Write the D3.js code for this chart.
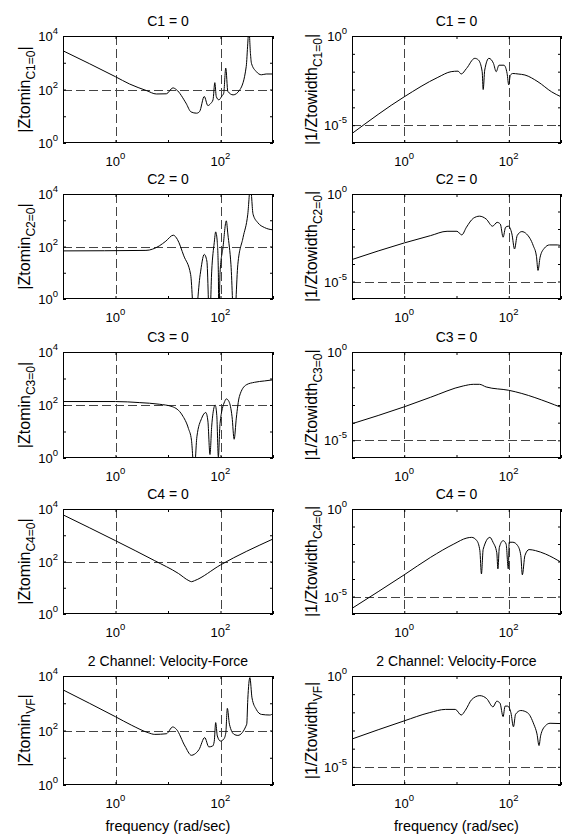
<!DOCTYPE html>
<html>
<head>
<meta charset="utf-8">
<script src="https://cdn.jsdelivr.net/npm/d3@7"></script>
<style>
  body { margin: 0; background: #fff; }
  text { font-family: "Liberation Sans", Arial, sans-serif; fill: #000; }
</style>
</head>
<body>
<svg id="fig" width="568" height="836"></svg>
<script>
// frequency (rad/sec) and magnitude pairs
const zC1Freq = [0.1, 1, 1.86, 3.9, 6, 9.3, 12.4, 14.5, 22, 27.5, 35, 40, 49, 57.5, 65, 72, 78, 83, 93, 107, 115, 126, 138, 174, 234, 309, 331, 347, 372, 389, 479, 603, 741, 1000];
const zC1Mag = [2800, 300, 160, 91, 68, 69, 115, 98, 31, 14.5, 13, 15, 55, 25, 30, 41, 180, 55, 41, 58, 72, 630, 85, 63, 98, 720, 5400, 20000, 2200, 950, 470, 355, 380, 380];

const zC2Freq = [0.1, 3.8, 6.8, 9.1, 12.6, 15.1, 20, 27, 32, 41, 49, 55, 62, 68, 76, 81, 87, 91, 93, 98, 112, 129, 138, 158, 182, 214, 269, 331, 372, 417, 513, 692, 1000];
const zC2Mag = [68, 71, 105, 160, 270, 186, 44, 8.5, 0.1, 8.5, 50, 28, 0.1, 11.5, 140, 360, 140, 10, 0.1, 10, 100, 950, 300, 21, 0.1, 21, 220, 1700, 20000, 1700, 810, 525, 430];

const zC3Freq = [0.1, 1, 2.9, 6.8, 12, 18.6, 24.5, 28, 31.6, 35.5, 43.6, 52.5, 57.5, 63, 68, 76, 79, 85, 91, 98, 120, 129, 145, 166, 182, 200, 229, 309, 447, 692, 1000];
const zC3Mag = [135, 135, 123, 107, 87, 42, 13, 4.7, 0.3, 6.3, 31, 52, 25, 1.35, 16, 87, 100, 40, 1.1, 20, 135, 170, 135, 36, 5.1, 32, 210, 575, 720, 810, 890];

const zC4Freq = [0.1, 1, 5.6, 15.8, 25, 28, 32, 100, 1000];
const zC4Mag = [6000, 620, 107, 35, 18.6, 17, 18.6, 74, 720];

const zVFFreq = [0.1, 1, 2.04, 4.2, 5.6, 9.3, 12.3, 14.5, 21, 28, 32, 39, 50, 60, 71, 76, 81, 87, 100, 115, 126, 135, 148, 182, 214, 316, 331, 363, 398, 479, 603, 871, 1000];
const zVFMag = [3100, 320, 155, 83, 72, 76, 135, 110, 27, 12.3, 13.5, 20, 55, 25, 27, 40, 195, 63, 41, 48, 80, 650, 170, 72, 66, 170, 1380, 8700, 1580, 600, 390, 370, 420];

const wC1Freq = [0.1, 1, 4.4, 7.9, 10.7, 12.3, 15.5, 22.4, 26.3, 31, 32.4, 34.7, 41.7, 51, 57.5, 65, 81, 93, 100, 107, 120, 151, 204, 363, 661, 1000];
const wC1Mag = [3.4e-6, 3.9e-4, 4.8e-3, 1.0e-2, 1.07e-2, 7.4e-3, 1.5e-2, 5.6e-2, 4.5e-2, 1.0e-2, 1.0e-3, 1.23e-2, 5.6e-2, 2.9e-2, 1.0e-2, 2.3e-2, 2.3e-2, 7.9e-3, 1.8e-3, 6.3e-3, 7.9e-3, 7.4e-3, 6.5e-3, 2.7e-3, 7.4e-4, 3.9e-4];

const wC2Freq = [0.1, 1, 3.2, 6.6, 10.2, 12.6, 15.5, 21, 27.5, 37, 49, 60, 69, 78, 87, 98, 115, 129, 145, 178, 219, 295, 339, 363, 398, 479, 603, 851, 1000];
const wC2Mag = [1.8e-4, 1.6e-3, 4.2e-3, 7.4e-3, 7.4e-3, 4.6e-3, 1.26e-2, 4.1e-2, 5.4e-2, 3.7e-2, 1.45e-2, 2.4e-2, 1.9e-2, 3.4e-3, 1.26e-2, 1.45e-2, 5.2e-3, 7.2e-4, 4.2e-3, 7.1e-3, 5.2e-3, 1.1e-3, 2.75e-4, 4.3e-5, 2.45e-4, 7.9e-4, 1.23e-3, 1.23e-3, 1.1e-3];

const wC3Freq = [0.1, 1, 3.2, 13.5, 21, 27.5, 37, 100, 1000];
const wC3Mag = [8.7e-5, 7.9e-4, 2.75e-3, 1.2e-2, 1.48e-2, 1.48e-2, 1.05e-2, 6.8e-3, 7.4e-4];

const wC4Freq = [0.1, 1, 3.2, 8.9, 15.8, 19.5, 24.5, 28, 30, 32.4, 43.6, 50, 59, 62, 66, 78, 89, 98, 102, 120, 148, 170, 182, 204, 245, 324, 501, 1000];
const wC4Mag = [2.1e-6, 1.74e-4, 1.74e-3, 1.0e-2, 2.2e-2, 2.4e-2, 1.55e-2, 4.2e-3, 1.95e-4, 5e-3, 2.4e-2, 1.26e-2, 3.2e-3, 3.8e-4, 6.3e-3, 1.55e-2, 1.0e-2, 3.8e-4, 1.26e-2, 1.26e-2, 8.1e-3, 2.2e-3, 1.74e-4, 2.2e-3, 4.8e-3, 4.2e-3, 2.7e-3, 9.1e-4];

const wVFFreq = [0.1, 1, 3, 6.2, 9.5, 12.3, 14.8, 19.5, 28, 38, 50, 59, 68, 78, 85, 95, 110, 123, 135, 170, 229, 302, 347, 380, 407, 501, 617, 1000];
const wVFMag = [3.4e-4, 3.4e-3, 9.5e-3, 1.45e-2, 1.45e-2, 7.1e-3, 1.3e-2, 5.0e-2, 8.3e-2, 5.6e-2, 2.0e-2, 4.1e-2, 3.2e-2, 5.8e-3, 2.2e-2, 2.2e-2, 9.5e-3, 1.6e-3, 7.8e-3, 1.26e-2, 9.5e-3, 2.2e-3, 6.5e-4, 1.48e-4, 5.1e-4, 1.8e-3, 2.5e-3, 2.4e-3];

const titles = ['C1 = 0', 'C2 = 0', 'C3 = 0', 'C4 = 0', '2 Channel: Velocity-Force'];
const subscripts = ['C1=0', 'C2=0', 'C3=0', 'C4=0', 'VF'];

const xDecades = [0.1, 1, 10, 100, 1000];
const xLabelled = [1, 100];
const zDecades = [1, 10, 100, 1000, 10000];
const zLabelled = [1, 100, 10000];
const zGrid = [100];
const wDecades = [1e-6, 1e-5, 1e-4, 1e-3, 1e-2, 1e-1, 1];
const wLabelled = [1e-5, 1];
const wGrid = [1e-5];

const zSeries = [[zC1Freq, zC1Mag], [zC2Freq, zC2Mag], [zC3Freq, zC3Mag], [zC4Freq, zC4Mag], [zVFFreq, zVFMag]];
const wSeries = [[wC1Freq, wC1Mag], [wC2Freq, wC2Mag], [wC3Freq, wC3Mag], [wC4Freq, wC4Mag], [wVFFreq, wVFMag]];

const svg = d3.select('#fig');

const columns = [{ left: 63, right: 273 }, { left: 352, right: 561 }];
const rows = [
  { top: 36, bottom: 143 },
  { top: 194, bottom: 299 },
  { top: 352, bottom: 458 },
  { top: 509, bottom: 614 },
  { top: 676, bottom: 785 }
];

function powerLabel(sel, value) {
  const e = Math.round(Math.log10(value));
  sel.append('tspan').text('10');
  sel.append('tspan')
    .attr('dy', -7)
    .style('font-size', '9.5px')
    .text(e < 0 ? '-' + (-e) : e);
}

function drawPanel(rowIndex, colIndex, id) {
  const col = columns[colIndex];
  const row = rows[rowIndex];
  const isZ = colIndex === 0;
  const [freq, mag] = isZ ? zSeries[rowIndex] : wSeries[rowIndex];

  const x = d3.scaleLog().domain([0.1, 1000]).range([col.left, col.right]);
  const y = d3.scaleLog()
    .domain(isZ ? [1, 10000] : [1e-6, 1])
    .range([row.bottom, row.top]);

  const g = svg.append('g');

  g.append('clipPath')
    .attr('id', id)
    .append('rect')
    .attr('x', col.left)
    .attr('y', row.top)
    .attr('width', col.right - col.left)
    .attr('height', row.bottom - row.top);

  // dashed grid at labelled ticks
  g.selectAll('.vgrid')
    .data(xLabelled)
    .enter().append('line')
    .attr('x1', d => Math.round(x(d)) + 0.5)
    .attr('x2', d => Math.round(x(d)) + 0.5)
    .attr('y1', row.top)
    .attr('y2', row.bottom)
    .attr('stroke', '#444')
    .attr('stroke-dasharray', '9,4');

  g.selectAll('.hgrid')
    .data(isZ ? zGrid : wGrid)
    .enter().append('line')
    .attr('x1', col.left)
    .attr('x2', col.right)
    .attr('y1', d => Math.round(y(d)) + 0.5)
    .attr('y2', d => Math.round(y(d)) + 0.5)
    .attr('stroke', '#444')
    .attr('stroke-dasharray', '9,4');

  const line = d3.line()
    .x((d, i) => x(freq[i]))
    .y(d => y(d))
    .curve(d3.curveMonotoneX);

  g.append('path')
    .datum(mag)
    .attr('clip-path', `url(#${id})`)
    .attr('fill', 'none')
    .attr('stroke', '#000')
    .attr('stroke-width', 1)
    .attr('d', line);

  // inward ticks on all four sides
  const yDecades = isZ ? zDecades : wDecades;
  const tickAxes = [
    [d3.axisBottom(x).tickValues(xDecades), `translate(0,${row.bottom})`],
    [d3.axisTop(x).tickValues(xDecades), `translate(0,${row.top})`],
    [d3.axisLeft(y).tickValues(yDecades), `translate(${col.left},0)`],
    [d3.axisRight(y).tickValues(yDecades), `translate(${col.right},0)`]
  ];
  tickAxes.forEach(([axis, tr]) => {
    const a = g.append('g')
      .attr('transform', tr)
      .call(axis.tickSize(-3).tickSizeOuter(0).tickFormat(''));
    a.select('.domain').remove();
    a.selectAll('line').attr('stroke', '#000');
  });

  g.append('rect')
    .attr('x', col.left + 0.5)
    .attr('y', row.top + 0.5)
    .attr('width', col.right - col.left - 1)
    .attr('height', row.bottom - row.top - 1)
    .attr('fill', 'none')
    .attr('stroke', '#000');

  // tick labels
  xLabelled.forEach(v => {
    g.append('text')
      .attr('x', x(v))
      .attr('y', row.bottom + 23)
      .attr('text-anchor', 'middle')
      .style('font-size', '13px')
      .call(powerLabel, v);
  });

  (isZ ? zLabelled : wLabelled).forEach(v => {
    g.append('text')
      .attr('x', col.left - 5)
      .attr('y', y(v) + 5)
      .attr('text-anchor', 'end')
      .style('font-size', '13px')
      .call(powerLabel, v);
  });

  g.append('text')
    .attr('x', (col.left + col.right) / 2)
    .attr('y', row.top - 10)
    .attr('text-anchor', 'middle')
    .style('font-size', '14px')
    .text(titles[rowIndex]);

  const yl = g.append('text')
    .attr('transform', `translate(${col.left - (isZ ? 33 : 35)},${(row.top + row.bottom) / 2}) rotate(-90)`)
    .attr('text-anchor', 'middle')
    .style('font-size', '16px');
  yl.append('tspan').text(isZ ? '|Ztomin' : '|1/Ztowidth');
  yl.append('tspan').attr('dy', 5).style('font-size', '12px').text(subscripts[rowIndex]);
  yl.append('tspan').attr('dy', -5).text('|');

  if (rowIndex === rows.length - 1) {
    g.append('text')
      .attr('x', (col.left + col.right) / 2)
      .attr('y', 831)
      .attr('text-anchor', 'middle')
      .style('font-size', '14.5px')
      .text('frequency (rad/sec)');
  }
}

rows.forEach((r, i) => {
  drawPanel(i, 0, `clipz${i}`);
  drawPanel(i, 1, `clipw${i}`);
});
</script>
</body>
</html>
